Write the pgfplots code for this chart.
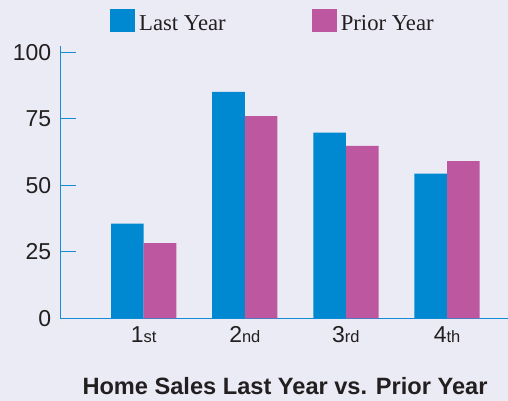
\documentclass[border=0pt]{standalone}
\usepackage{pgfplots}
\pgfplotsset{compat=1.18}
\usepackage{fontspec}
\setmainfont{Liberation Sans}
\newfontfamily\serifleg{Liberation Serif}
\definecolor{bgc}{RGB}{235,235,245}
\definecolor{barblue}{RGB}{0,137,209}
\definecolor{barpink}{RGB}{189,87,160}
\definecolor{axblue}{RGB}{22,140,214}
\definecolor{txt}{RGB}{35,31,32}
\newcommand{\sfx}[1]{{\fontsize{16.5}{16.5}\selectfont #1}}
\begin{document}
\begin{tikzpicture}
\fill[bgc] (0,0) rectangle (508pt,401pt);
\useasboundingbox (0,0) rectangle (508pt,401pt);
\begin{axis}[
  at={(60.3pt,82.7pt)}, anchor=south west,
  scale only axis, width=447.7pt, height=272pt,
  ybar=0pt, bar width=0.3225,
  xmin=0.175, xmax=4.603, ymin=0, ymax=102.2,
  axis x line=bottom, axis y line=left,
  axis line style={-, draw=axblue, line width=1.3pt},
  xtick={1,2,3,4},
  xticklabels={1\sfx{st},2\sfx{nd},3\sfx{rd},4\sfx{th}},
  ytick={0,25,50,75,100},
  tick align=inside,
  major tick length=16pt,
  x tick style={draw=none},
  y tick style={draw=axblue, line width=1.3pt},
  ticklabel style={font=\fontsize{23}{23}\selectfont, text=txt},
  yticklabel style={xshift=-5.5pt},
  xticklabel style={yshift=-5pt},
  /pgf/number format/assume math mode=true,
  legend columns=2,
  legend style={at={(rel axis cs:0,1)}, anchor=south west, xshift=49.7pt, yshift=14pt,
    draw=none, fill=none, inner sep=0pt, font=\serifleg\fontsize{22.7}{22.7}\selectfont, text=txt,
    nodes={inner xsep=0pt, inner ysep=0pt},
    /tikz/every even column/.append style={column sep=86pt}},
  legend image code/.code={\fill[#1] (0pt,-8pt) rectangle (25pt,15pt);},
]
\addplot[fill=barblue, draw=none] coordinates {(1,35.6) (2,85.1) (3,69.8) (4,54.4)};
\addplot[fill=barpink, draw=none] coordinates {(1,28.2) (2,76.0) (3,64.8) (4,59.1)};
\legend{\hspace{4pt}Last Year,\hspace{4pt}Prior Year}
\end{axis}
\node[anchor=base, font=\bfseries\fontsize{23.6}{23.6}\selectfont, text=txt] at (285pt,6pt) {Home Sales Last Year vs. Prior Year};
\end{tikzpicture}
\end{document}
